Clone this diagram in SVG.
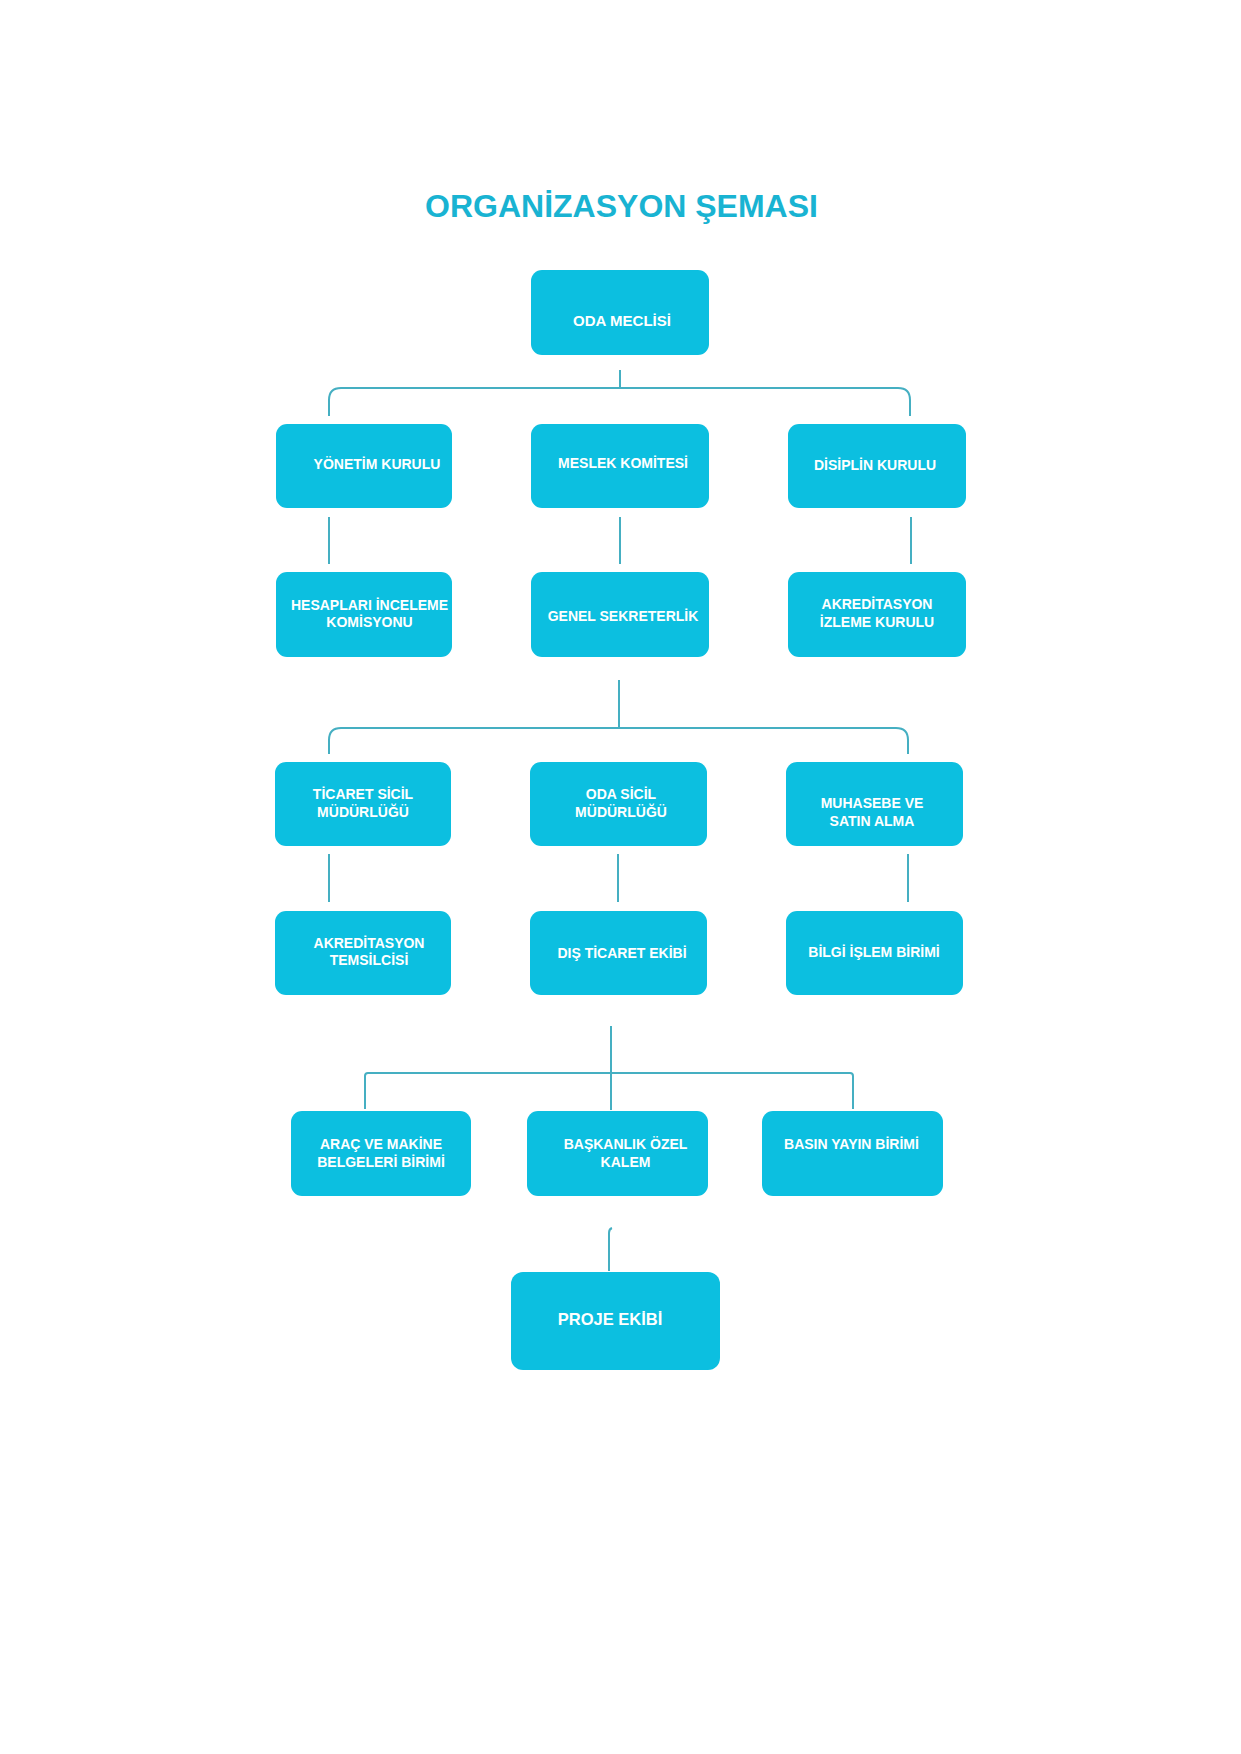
<svg xmlns="http://www.w3.org/2000/svg" width="1241" height="1754" viewBox="0 0 1241 1754">
<style>
.box{fill:#0CBFE0;}
.lbl{font-family:"Liberation Sans",Arial,sans-serif;font-weight:bold;font-size:14px;fill:#FFFFFF;text-anchor:middle;}
.title{font-family:"Liberation Sans",Arial,sans-serif;font-weight:bold;font-size:32px;fill:#19B3D2;text-anchor:middle;}
.con{fill:none;stroke:#45AFC2;stroke-width:2;}
</style>
<rect width="1241" height="1754" fill="#FFFFFF"/>
<text class="title" x="621.5" y="217">ORGANİZASYON ŞEMASI</text>
<g id="connectors">
<path class="con" d="M620,370 V388"/>
<path class="con" d="M329,416 V400 Q329,388 341,388 H898 Q910,388 910,400 V416"/>
<path class="con" d="M329,517 V564"/>
<path class="con" d="M620,517 V564"/>
<path class="con" d="M911,517 V564"/>
<path class="con" d="M619,680 V728"/>
<path class="con" d="M329,754 V740 Q329,728 341,728 H896 Q908,728 908,740 V754"/>
<path class="con" d="M329,854 V902"/>
<path class="con" d="M618,854 V902"/>
<path class="con" d="M908,854 V902"/>
<path class="con" d="M611,1026 V1110"/>
<path class="con" d="M365,1109 V1076 Q365,1073 368,1073 H850 Q853,1073 853,1076 V1109"/>
<path class="con" d="M612,1228 Q609,1229 609,1233 V1271"/>
</g>
<g id="n-oda-meclisi"><rect class="box" x="531" y="270" width="178" height="85" rx="11"/><text class="lbl" x="622" y="326" style="font-size:15px">ODA MECLİSİ</text></g>
<g id="n-yonetim"><rect class="box" x="276" y="424" width="176" height="84" rx="11"/><text class="lbl" x="377" y="469">YÖNETİM KURULU</text></g>
<g id="n-meslek"><rect class="box" x="531" y="424" width="178" height="84" rx="11"/><text class="lbl" x="623" y="468">MESLEK KOMİTESİ</text></g>
<g id="n-disiplin"><rect class="box" x="788" y="424" width="178" height="84" rx="11"/><text class="lbl" x="875" y="470">DİSİPLİN KURULU</text></g>
<g id="n-hesaplari"><rect class="box" x="276" y="572" width="176" height="85" rx="11"/><text class="lbl" x="369.5" y="610">HESAPLARI İNCELEME</text><text class="lbl" x="369.5" y="627">KOMİSYONU</text></g>
<g id="n-genel"><rect class="box" x="531" y="572" width="178" height="85" rx="11"/><text class="lbl" x="623" y="621">GENEL SEKRETERLİK</text></g>
<g id="n-akr-izleme"><rect class="box" x="788" y="572" width="178" height="85" rx="11"/><text class="lbl" x="877" y="609">AKREDİTASYON</text><text class="lbl" x="877" y="627">İZLEME KURULU</text></g>
<g id="n-ticaret"><rect class="box" x="275" y="762" width="176" height="84" rx="11"/><text class="lbl" x="363" y="799">TİCARET SİCİL</text><text class="lbl" x="363" y="817">MÜDÜRLÜĞÜ</text></g>
<g id="n-oda-sicil"><rect class="box" x="530" y="762" width="177" height="84" rx="11"/><text class="lbl" x="621" y="799">ODA SİCİL</text><text class="lbl" x="621" y="817">MÜDÜRLÜĞÜ</text></g>
<g id="n-muhasebe"><rect class="box" x="786" y="762" width="177" height="84" rx="11"/><text class="lbl" x="872" y="808">MUHASEBE VE</text><text class="lbl" x="872" y="826">SATIN ALMA</text></g>
<g id="n-akr-temsilci"><rect class="box" x="275" y="911" width="176" height="84" rx="11"/><text class="lbl" x="369" y="948">AKREDİTASYON</text><text class="lbl" x="369" y="965">TEMSİLCİSİ</text></g>
<g id="n-dis-ticaret"><rect class="box" x="530" y="911" width="177" height="84" rx="11"/><text class="lbl" x="622" y="958">DIŞ TİCARET EKİBİ</text></g>
<g id="n-bilgi"><rect class="box" x="786" y="911" width="177" height="84" rx="11"/><text class="lbl" x="874" y="957">BİLGİ İŞLEM BİRİMİ</text></g>
<g id="n-arac"><rect class="box" x="291" y="1111" width="180" height="85" rx="11"/><text class="lbl" x="381" y="1149">ARAÇ VE MAKİNE</text><text class="lbl" x="381" y="1167">BELGELERİ BİRİMİ</text></g>
<g id="n-baskanlik"><rect class="box" x="527" y="1111" width="181" height="85" rx="11"/><text class="lbl" x="625.5" y="1149">BAŞKANLIK ÖZEL</text><text class="lbl" x="625.5" y="1167">KALEM</text></g>
<g id="n-basin"><rect class="box" x="762" y="1111" width="181" height="85" rx="11"/><text class="lbl" x="851.5" y="1149">BASIN YAYIN BİRİMİ</text></g>
<g id="n-proje"><rect class="box" x="511" y="1272" width="209" height="98" rx="12"/><text class="lbl" x="610" y="1325" style="font-size:16.5px">PROJE EKİBİ</text></g>
</svg>
